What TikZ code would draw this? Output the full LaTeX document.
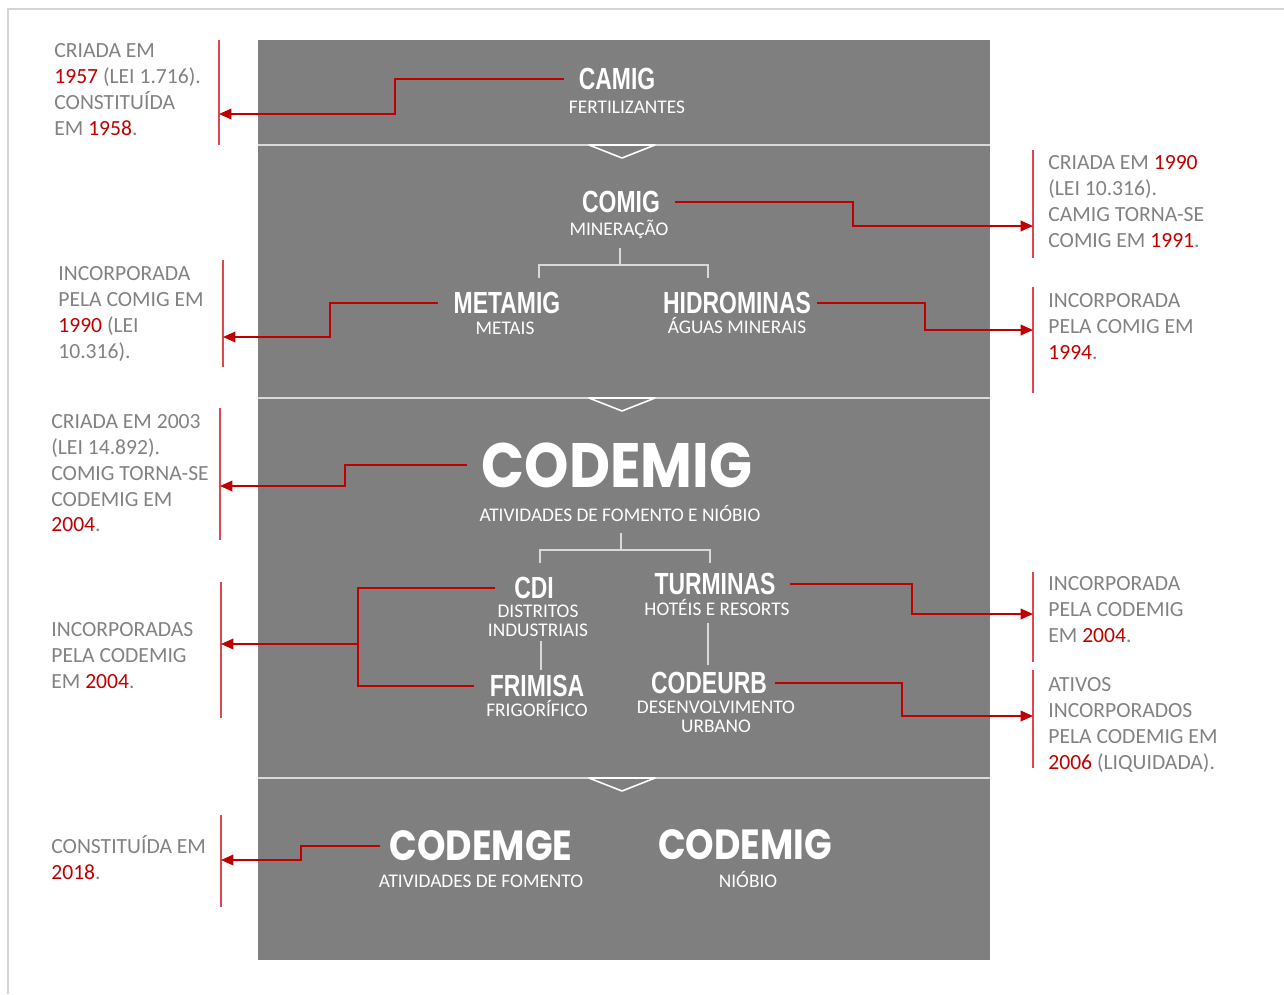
\documentclass[tikz,border=0pt]{standalone}
\usepackage{fontspec}
\setmainfont{Carlito}
\newfontfamily\condfont[FakeStretch=0.75]{Liberation Sans}
\newfontfamily\heavyfont[FakeStretch=0.9]{Poppins}
\newfontfamily\heavynarrow[FakeStretch=0.86]{Poppins}
\usetikzlibrary{arrows.meta}
\definecolor{panel}{HTML}{7F7F7F}
\definecolor{notegray}{HTML}{828282}
\definecolor{darkred}{HTML}{C00000}
\definecolor{barred}{HTML}{E04650}
\definecolor{sepline}{HTML}{D9D9D9}
\definecolor{framegray}{HTML}{D4D4D4}
\newcommand{\yr}[1]{\textcolor{darkred}{#1}}

\begin{document}
\begin{tikzpicture}[x=0.02cm, y=-0.02cm,
  firm/.style={text=white, font=\condfont\bfseries\fontsize{17.4}{20}\selectfont, inner sep=0pt},
  firmsub/.style={text=white, font=\fontsize{11}{10.8}\selectfont, inner sep=0pt, anchor=base, align=center},
  bigname/.style={text=white, font=\heavyfont\bfseries\fontsize{35.7}{40}\selectfont, inner sep=0pt},
  midname/.style={text=white, font=\heavynarrow\bfseries\fontsize{24}{28}\selectfont, inner sep=0pt},
  note/.style={text=notegray, font=\fontsize{12.3}{14.74}\selectfont, inner sep=0pt, anchor=north west, align=left},
  link/.style={draw=darkred, line width=1pt},
  arr/.style={-{Triangle[length=7pt,width=6pt]}},
  notebar/.style={draw=barred, line width=0.8pt},
  tree/.style={draw=sepline, line width=0.8pt}]

\useasboundingbox (0,0) rectangle (1284,994);
\draw[framegray, line width=0.6pt] (8,994) -- (8,9) -- (1284,9);

\fill[panel] (258,40) rectangle (990,960);
\foreach \y in {145,398,778} {
  \draw[sepline, line width=1pt] (258,\y) -- (990,\y);
  \draw[white, line width=0.9pt, line join=round] (589,\y) -- (622,\y+13) -- (655,\y) -- cycle;
}

\node[firm] (camig) at (617,79) {CAMIG};
\node[firmsub] (camigsub) at (627,113) {FERTILIZANTES};

\node[firm] (comig) at (621,202) {COMIG};
\node[firmsub] (comigsub) at (619,235) {MINERAÇÃO};
\node[firm] (metamig) at (507,303) {METAMIG};
\node[firmsub] (metamigsub) at (505,334) {METAIS};
\node[firm] (hidrominas) at (737,303) {HIDROMINAS};
\node[firmsub] (hidrominassub) at (737,333) {ÁGUAS MINERAIS};

\node[bigname] (codemig) at (617,465) {CODEMIG};
\node[firmsub] (codemigsub) at (620,521) {ATIVIDADES DE FOMENTO E NIÓBIO};
\node[firm] (cdi) at (534,588) {CDI};
\node[firmsub, anchor=north] (cdisub) at (538,605) {DISTRITOS\\INDUSTRIAIS};
\node[firm] (turminas) at (715,584) {TURMINAS};
\node[firmsub] (turminassub) at (717,615) {HOTÉIS E RESORTS};
\node[firm] (frimisa) at (537,686) {FRIMISA};
\node[firmsub] (frimisasub) at (537,716) {FRIGORÍFICO};
\node[firm] (codeurb) at (709,683) {CODEURB};
\node[firmsub, anchor=north] (codeurbsub) at (716,701) {DESENVOLVIMENTO\\URBANO};

\node[midname] (codemge) at (481,846) {CODEMGE};
\node[firmsub] (codemgesub) at (481,887) {ATIVIDADES DE FOMENTO};
\node[midname] (codemigb) at (745,845) {CODEMIG};
\node[firmsub] (codemigbsub) at (748,887) {NIÓBIO};

\coordinate (t1) at (620,248);
\coordinate (t1l) at (539,278);
\coordinate (t1r) at (708,278);
\coordinate (t2) at (621,533);
\coordinate (t2l) at (540,563);
\coordinate (t2r) at (710,563);
\path[tree] (t1) -- ++(0,17);
\path[tree] (t1l) -- ++(0,-13) -| (t1r);
\path[tree] (t2) -- ++(0,17);
\path[tree] (t2l) -- ++(0,-13) -| (t2r);
\path[tree, shorten <=2pt, shorten >=3pt] (cdisub.south -| 541,0) -- (frimisa.north -| 541,0);
\path[tree, shorten <=4pt, shorten >=4pt] (turminassub.south -| 708,0) -- (codeurb.north -| 708,0);

\node[note] (n1) at (54,43) {CRIADA EM\\\yr{1957} (LEI 1.716).\\CONSTITUÍDA\\EM \yr{1958}.};
\node[note] (n2) at (1048,155) {CRIADA EM \yr{1990}\\(LEI 10.316).\\CAMIG TORNA-SE\\COMIG EM \yr{1991}.};
\node[note] (n3) at (58,266) {INCORPORADA\\PELA COMIG EM\\\yr{1990} (LEI\\10.316).};
\node[note] (n4) at (1048,293) {INCORPORADA\\PELA COMIG EM\\\yr{1994}.};
\node[note] (n5) at (51,414) {CRIADA EM 2003\\(LEI 14.892).\\COMIG TORNA-SE\\CODEMIG EM\\\yr{2004}.};
\node[note] (n6) at (51,622) {INCORPORADAS\\PELA CODEMIG\\EM \yr{2004}.};
\node[note] (n7) at (1048,576) {INCORPORADA\\PELA CODEMIG\\EM \yr{2004}.};
\node[note] (n8) at (1048,677) {ATIVOS\\INCORPORADOS\\PELA CODEMIG EM\\\yr{2006} (LIQUIDADA).};
\node[note] (n9) at (51,835) {CONSTITUÍDA EM\\\yr{2018}.};

\path[notebar] (219,40) -- (219,145);
\path[notebar] (1033,150) -- (1033,258);
\path[notebar] (223,260) -- (223,367);
\path[notebar] (1033,287) -- (1033,393);
\path[notebar] (220,408) -- (220,540);
\path[notebar] (221,582) -- (221,718);
\path[notebar] (1033,572) -- (1033,662);
\path[notebar] (1033,670) -- (1033,768);
\path[notebar] (221,815) -- (221,907);

\coordinate (k1) at (395,0);
\coordinate (k2) at (853,0);
\coordinate (k3) at (330,0);
\coordinate (k4) at (925,0);
\coordinate (k5) at (345,0);
\coordinate (k6) at (358,644);
\coordinate (k7) at (912,0);
\coordinate (k8) at (902,0);
\coordinate (k9) at (301,0);
\coordinate (a1) at (219,114);
\coordinate (a2) at (1033,226);
\coordinate (a3) at (223,337);
\coordinate (a4) at (1033,330);
\coordinate (a5) at (220,486);
\coordinate (a6) at (221,644);
\coordinate (a7) at (1033,614);
\coordinate (a8) at (1033,716);
\coordinate (a9) at (221,860);

\path[link, arr, shorten <=8.5pt] (camig.west) -- (camig.west -| k1) |- (a1);
\path[link, arr, shorten <=8.5pt] (comig.east) -- (comig.east -| k2) |- (a2);
\path[link, arr, shorten <=9pt] (metamig.west) -- (metamig.west -| k3) |- (a3);
\path[link, arr, shorten <=3.5pt] (hidrominas.east) -- (hidrominas.east -| k4) |- (a4);
\path[link, arr, shorten <=8pt] (codemig.west) -- (codemig.west -| k5) |- (a5);
\path[link, shorten <=11pt, shorten >=9pt] (cdi.west) -- (cdi.west -| k6) -- (frimisa.west -| k6) -- (frimisa.west);
\path[link, arr] (k6) -- (a6);
\path[link, arr, shorten <=8pt] (turminas.east) -- (turminas.east -| k7) |- (a7);
\path[link, arr, shorten <=4.5pt] (codeurb.east) -- (codeurb.east -| k8) |- (a8);
\path[link, arr, shorten <=5.5pt] (codemge.west) -- (codemge.west -| k9) |- (a9);
\end{tikzpicture}
\end{document}
